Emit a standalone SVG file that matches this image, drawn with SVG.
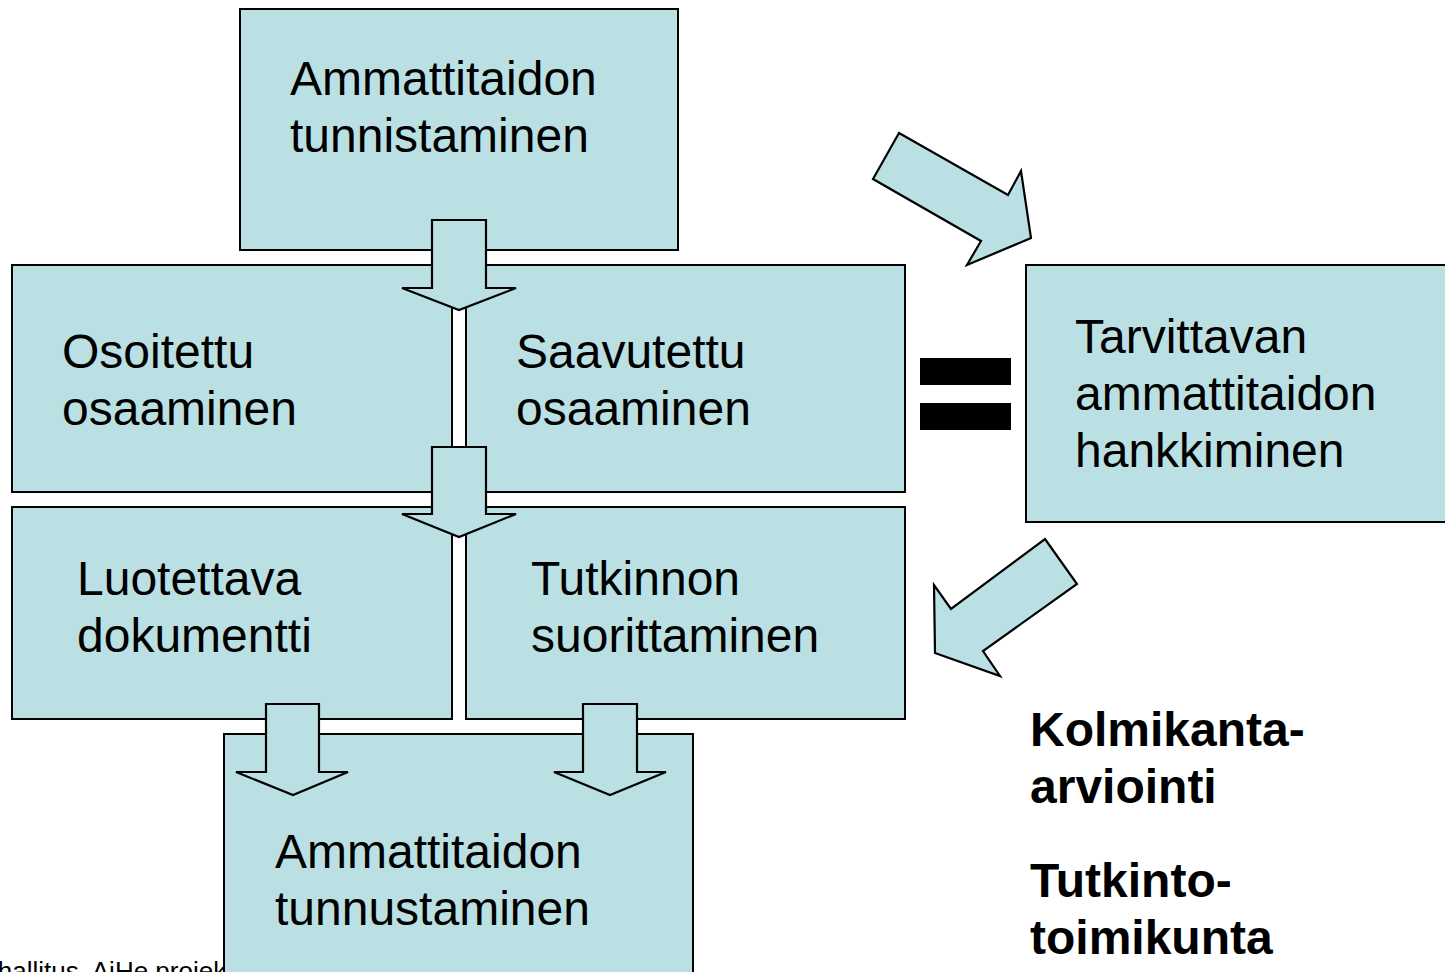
<svg xmlns="http://www.w3.org/2000/svg" width="1445" height="972" viewBox="0 0 1445 972">
<style>
.box{fill:#BAE0E3;stroke:#000;stroke-width:2}
.arr{fill:#BAE0E3;stroke:#000;stroke-width:2.2;stroke-linejoin:miter}
.t{font-family:"Liberation Sans",Arial,sans-serif;font-size:48px;fill:#000}
.b{font-family:"Liberation Sans",Arial,sans-serif;font-size:48px;font-weight:bold;fill:#000}
.s{font-family:"Liberation Sans",Arial,sans-serif;font-size:26px;fill:#000}
</style>
<rect width="1445" height="972" fill="#fff"/>
<text class="s" x="-86" y="980">Opetushallitus, AiHe projekti</text>
<g id="n-top">
<rect class="box" x="240" y="9" width="438" height="241"/>
<text class="t" x="290" y="95">Ammattitaidon</text>
<text class="t" x="290" y="152">tunnistaminen</text>
</g>
<g id="n-osoitettu">
<rect class="box" x="12" y="265" width="440" height="227"/>
<text class="t" x="62" y="368">Osoitettu</text>
<text class="t" x="62" y="425">osaaminen</text>
</g>
<g id="n-saavutettu">
<rect class="box" x="466" y="265" width="439" height="227"/>
<text class="t" x="516" y="368">Saavutettu</text>
<text class="t" x="516" y="425">osaaminen</text>
</g>
<g id="n-tarvittavan">
<rect class="box" x="1026" y="265" width="425" height="257"/>
<text class="t" x="1075" y="353">Tarvittavan</text>
<text class="t" x="1075" y="410">ammattitaidon</text>
<text class="t" x="1075" y="467">hankkiminen</text>
</g>
<g id="n-luotettava">
<rect class="box" x="12" y="507" width="440" height="212"/>
<text class="t" x="77" y="595">Luotettava</text>
<text class="t" x="77" y="652">dokumentti</text>
</g>
<g id="n-tutkinnon">
<rect class="box" x="466" y="507" width="439" height="212"/>
<text class="t" x="531" y="595">Tutkinnon</text>
<text class="t" x="531" y="652">suorittaminen</text>
</g>
<g id="n-bottom">
<rect class="box" x="224" y="734" width="469" height="250"/>
<text class="t" x="275" y="868">Ammattitaidon</text>
<text class="t" x="275" y="925">tunnustaminen</text>
</g>
<g id="equals">
<rect x="920" y="358" width="91" height="27" fill="#000"/>
<rect x="920" y="403" width="91" height="27" fill="#000"/>
</g>
<g id="labels">
<text class="b" x="1030" y="746">Kolmikanta-</text>
<text class="b" x="1030" y="803">arviointi</text>
<text class="b" x="1030" y="897">Tutkinto-</text>
<text class="b" x="1030" y="954">toimikunta</text>
</g>
<g id="connectors">
<polygon class="arr" points="432,220 486,220 486,288 516,288 459,310 402,288 432,288"/>
<polygon class="arr" points="432,447 486,447 486,514 516,514 459,537 402,514 432,514"/>
<polygon class="arr" points="266,704 319,704 319,772 348,772 293,795 236,772 266,772"/>
<polygon class="arr" points="583,704 637,704 637,772 666,772 610,795 554,772 583,772"/>
<polygon class="arr" points="899,133 1008,195 1021,171 1031,238 967,265 981,241 873,179"/>
<polygon class="arr" points="1045,539 1077,584 983,651 1000,676 935,653 934,585 951,609"/>
</g>
</svg>
